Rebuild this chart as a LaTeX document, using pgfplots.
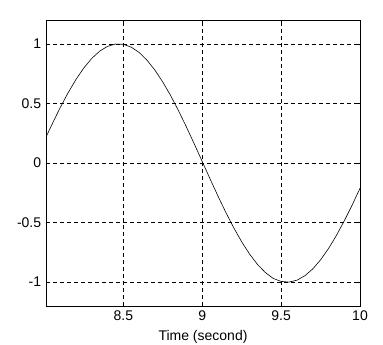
\documentclass[border=0pt]{standalone}
\usepackage{pgfplots}
\pgfplotsset{compat=1.18}
\usepackage{fontspec}
\setmainfont{Liberation Sans}
\begin{document}
\fontsize{14bp}{16bp}\selectfont
\begin{tikzpicture}
\useasboundingbox (-46bp,-39bp) rectangle (337bp,306bp);
\begin{axis}[
  at={(0,0)}, anchor=south west,
  scale only axis, width=314bp, height=286bp,
  xmin=8.01, xmax=10, ymin=-1.2, ymax=1.2,
  xtick={8.5,9,9.5,10}, ytick={-1,-0.5,0,0.5,1},
  xticklabels={8.5,9,9.5,10}, yticklabels={-1,-0.5,0,0.5,1},
  tick align=inside, major tick length=4bp,
  tick style={black, line width=0.5pt},
  grid=major, major grid style={black, line width=0.5pt, dash pattern=on 4bp off 3bp},
  axis line style={black, line width=0.8pt},
  xlabel={Time (second)},
  xlabel style={yshift=0bp},
  /pgf/number format/assume math mode=true,
  ticklabel style={font=\fontsize{14bp}{16bp}\selectfont},
  label style={font=\fontsize{14bp}{16bp}\selectfont},
  axis on top=false,
]
\addplot[black, line width=0.6pt, mark=none] coordinates {
(8.01,0.2167) (8.05,0.3298) (8.10,0.4648) (8.15,0.5891) (8.20,0.7012)
(8.25,0.7980) (8.30,0.8777) (8.35,0.9384) (8.40,0.9789) (8.45,0.9983)
(8.50,0.9961) (8.55,0.9725) (8.60,0.9278) (8.65,0.8632) (8.70,0.7800)
(8.75,0.6799) (8.80,0.5656) (8.85,0.4381) (8.90,0.3020) (8.95,0.1592)
(9.00,0.0126) (9.05,-0.1341) (9.10,-0.2777) (9.15,-0.4154) (9.20,-0.5439)
(9.25,-0.6609) (9.30,-0.7638) (9.35,-0.8505) (9.40,-0.9193) (9.45,-0.9687)
(9.50,-0.9936) (9.55,-0.9994) (9.60,-0.9837) (9.65,-0.9468) (9.70,-0.8895)
(9.75,-0.8130) (9.80,-0.7189) (9.85,-0.6090) (9.90,-0.4857) (9.95,-0.3537)
(10.00,-0.2126)
};
\end{axis}
\end{tikzpicture}
\end{document}
